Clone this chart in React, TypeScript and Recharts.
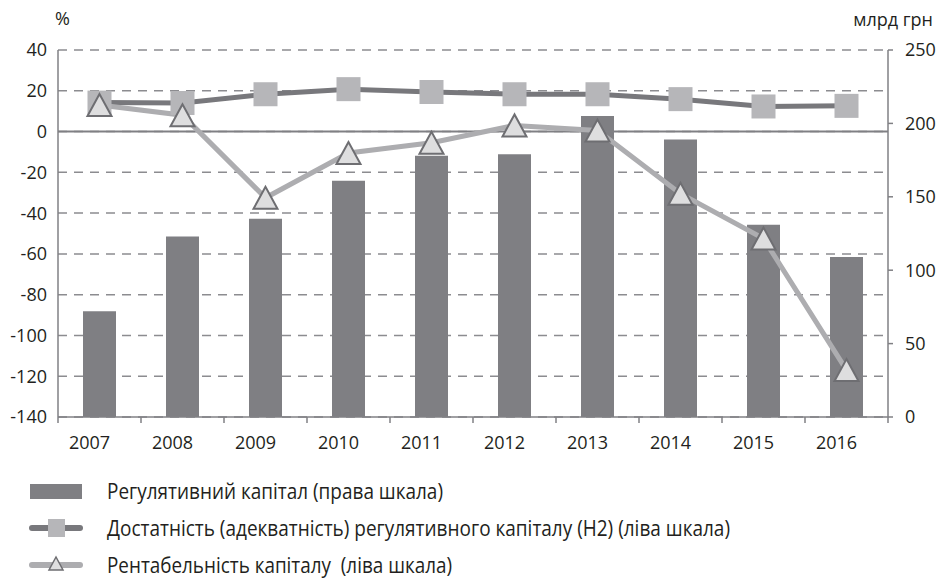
import { ComposedChart, Bar, Line, XAxis, YAxis, CartesianGrid, ReferenceLine } from 'recharts';

const years = ['2007', '2008', '2009', '2010', '2011', '2012', '2013', '2014', '2015', '2016'];
// регулятивний капітал, млрд грн (права шкала)
const regCapital = [72, 123, 135, 161, 178, 179, 205, 189, 131, 109];
// Н2, % (ліва шкала)
const adequacyH2 = [14.2, 14.0, 18.3, 20.8, 19.4, 18.3, 18.3, 15.9, 12.3, 12.6];
// рентабельність капіталу, % (ліва шкала)
const roe = [13, 8, -32.5, -10.5, -5.5, 3, 0.5, -30.5, -52.5, -117];

const leftTicks = [-140, -120, -100, -80, -60, -40, -20, 0, 20, 40];
const rightTicks = [0, 50, 100, 150, 200, 250];

const legendLabels = [
  'Регулятивний капітал (права шкала)',
  'Достатність (адекватність) регулятивного капіталу (Н2) (ліва шкала)',
  'Рентабельність капіталу  (ліва шкала)',
];
// text widths measured on the reference (condensed face)
const legendWidths = [336, 623, 345];

const data = years.map((year, i) => ({
  year,
  capital: regCapital[i],
  h2: adequacyH2[i],
  roe: roe[i],
}));

const BAR = '#7f7f83';
const H2_LINE = '#78787c';
const H2_MARK = '#b6b6b9';
const ROE_LINE = '#adadb0';
const ROE_FILL = '#dededf';
const ROE_STROKE = '#6e6e72';
const AXIS = '#808084';
const TEXT = '#231f20';
const TICK_FONT = '"Open Sans", sans-serif';
const LEGEND_FONT = '"Open Sans", sans-serif';

type DotProps = { cx?: number; cy?: number; index?: number };

function SquareDot({ cx, cy, index }: DotProps) {
  if (cx == null || cy == null) return null;
  return <rect key={`sq-${index}`} x={cx - 12} y={cy - 12} width={24} height={24} fill={H2_MARK} />;
}

function TriangleDot({ cx, cy, index }: DotProps) {
  if (cx == null || cy == null) return null;
  const pts = `${cx},${cy - 11} ${cx - 12},${cy + 11} ${cx + 12},${cy + 11}`;
  return <polygon key={`tr-${index}`} points={pts} fill={ROE_FILL} stroke={ROE_STROKE} strokeWidth={2} />;
}

// Year label shifted a bit left, tick marks on the category boundaries
function YearTick(props: any) {
  const { x, y, payload, index, visibleTicksCount, width } = props;
  const half = payload?.offset ?? width / visibleTicksCount / 2;
  return (
    <g>
      <line x1={x - half} x2={x - half} y1={y - 6} y2={y} stroke={AXIS} strokeWidth={1.5} />
      {index === visibleTicksCount - 1 && (
        <line x1={x + half} x2={x + half} y1={y - 6} y2={y} stroke={AXIS} strokeWidth={1.5} />
      )}
      <text x={x - 10} y={y + 26} textAnchor="middle" fill={TEXT} fontSize={18} fontFamily={TICK_FONT}>
        {payload.value}
      </text>
    </g>
  );
}

export default function App() {
  return (
    <div style={{ position: 'absolute', left: 0, top: 0, width: 945, height: 579, background: '#fff' }}>
      <ComposedChart width={945} height={470} data={data} margin={{ top: 50, right: 0, bottom: 0, left: 0 }}>
        <CartesianGrid yAxisId="left" vertical={false} stroke="#8c8c90" strokeDasharray="9 7" strokeWidth={1.5} />
        <XAxis
          dataKey="year"
          height={53}
          tickSize={6}
          tickMargin={0}
          tickLine={false}
          axisLine={{ stroke: AXIS, strokeWidth: 1.5 }}
          tick={<YearTick />}
          interval={0}
        />
        <YAxis
          yAxisId="left"
          width={58}
          domain={[-140, 40]}
          ticks={leftTicks}
          interval={0}
          tickLine={false}
          tickSize={6}
          tickMargin={5}
          axisLine={{ stroke: AXIS, strokeWidth: 1.5 }}
          tick={{ fill: TEXT, fontSize: 18, fontFamily: TICK_FONT }}
        />
        <YAxis
          yAxisId="right"
          orientation="right"
          width={57}
          domain={[0, 250]}
          ticks={rightTicks}
          interval={0}
          tickSize={5}
          tickMargin={12}
          tickLine={{ stroke: AXIS, strokeWidth: 1.5 }}
          axisLine={{ stroke: AXIS, strokeWidth: 1.5 }}
          tick={{ fill: TEXT, fontSize: 18, fontFamily: TICK_FONT, textAnchor: 'start' }}
        />
        <Bar yAxisId="right" dataKey="capital" fill={BAR} barSize={33} isAnimationActive={false} />
        <ReferenceLine yAxisId="left" y={0} stroke={AXIS} strokeWidth={2} />
        <Line
          yAxisId="left"
          dataKey="h2"
          stroke={H2_LINE}
          strokeWidth={5}
          dot={<SquareDot />}
          activeDot={false}
          isAnimationActive={false}
        />
        <Line
          yAxisId="left"
          dataKey="roe"
          stroke={ROE_LINE}
          strokeWidth={5}
          dot={<TriangleDot />}
          activeDot={false}
          isAnimationActive={false}
        />
      </ComposedChart>

      <svg width={945} height={579} style={{ position: 'absolute', left: 0, top: 0, pointerEvents: 'none' }}>
        <text x={55} y={25} fill={TEXT} fontSize={18} fontFamily={TICK_FONT}>%</text>
        <text x={933} y={26} textAnchor="end" fill={TEXT} fontSize={18} fontFamily={TICK_FONT}>млрд грн</text>

        <rect x={30} y={484} width={52} height={15} fill={BAR} />
        <line x1={32} x2={80} y1={528} y2={528} stroke={H2_LINE} strokeWidth={6} strokeLinecap="round" />
        <rect x={48} y={519} width={17} height={18} fill={H2_MARK} />
        <line x1={32} x2={80} y1={565} y2={565} stroke={ROE_LINE} strokeWidth={6} strokeLinecap="round" />
        <polygon points="56,557 49,570 63,570" fill={ROE_FILL} stroke={ROE_STROKE} strokeWidth={1.5} />

        {legendLabels.map((label, i) => (
          <text
            key={label}
            x={107}
            y={499 + i * 37}
            fill={TEXT}
            fontSize={22}
            fontFamily={LEGEND_FONT}
            textLength={legendWidths[i]}
            lengthAdjust="spacingAndGlyphs"
            style={{ whiteSpace: 'pre' }}
          >
            {label}
          </text>
        ))}
      </svg>
    </div>
  );
}
